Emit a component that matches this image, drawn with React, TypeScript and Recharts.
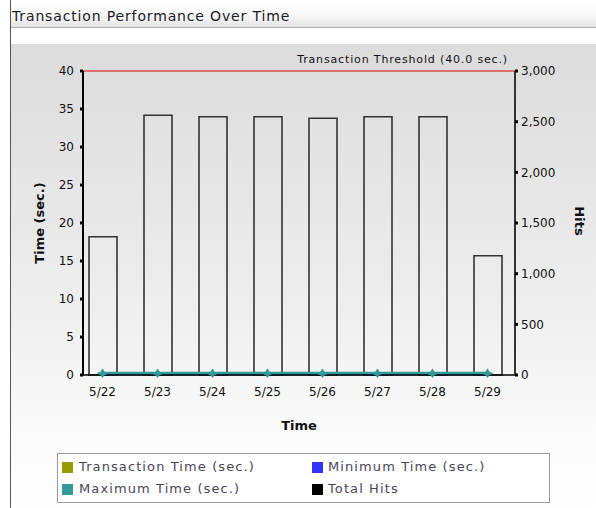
import React from "react";
import {
  ComposedChart,
  Bar,
  Line,
  XAxis,
  YAxis,
  ReferenceLine,
} from "recharts";

const dates = ["5/22", "5/23", "5/24", "5/25", "5/26", "5/27", "5/28", "5/29"];
const totalHits = [1365, 2563, 2549, 2549, 2533, 2549, 2549, 1177];
const transactionTime = [0.12, 0.11, 0.12, 0.12, 0.11, 0.12, 0.12, 0.12];
const minimumTime = [0.05, 0.05, 0.05, 0.05, 0.05, 0.05, 0.05, 0.05];
const maximumTime = [0.21, 0.2, 0.2, 0.21, 0.2, 0.2, 0.2, 0.21];
const timeTicks = [0, 5, 10, 15, 20, 25, 30, 35, 40];
const hitTicks = [0, 500, 1000, 1500, 2000, 2500, 3000];
const threshold = 40;

const legendItems = [
  { name: "Transaction Time (sec.)", color: "#999900" },
  { name: "Minimum Time (sec.)", color: "#3333ff" },
  { name: "Maximum Time (sec.)", color: "#339999" },
  { name: "Total Hits", color: "#000000" },
];

const data = dates.map((d, i) => ({
  date: d,
  hits: totalHits[i],
  trans: transactionTime[i],
  min: minimumTime[i],
  max: maximumTime[i],
}));

const FONT = "'DejaVu Sans', Verdana, sans-serif";

const StarDot = (props: any) => {
  const { cx, cy } = props;
  if (cx == null || cy == null) return null;
  const pts = [
    [cx, cy - 4.5],
    [cx + 1.5, cy - 1.5],
    [cx + 5, cy],
    [cx + 1.5, cy + 1.5],
    [cx, cy + 4],
    [cx - 1.5, cy + 1.5],
    [cx - 5, cy],
    [cx - 1.5, cy - 1.5],
  ]
    .map((p) => p.join(","))
    .join(" ");
  return <polygon points={pts} fill="#339999" stroke="#339999" strokeWidth={1} />;
};

const LeftLabel = (props: any) => {
  const vb = props.viewBox || { x: 23, y: 71, width: 60, height: 304 };
  return (
    <text
      transform={`translate(${vb.x + 21}, ${vb.y + vb.height / 2}) rotate(-90)`}
      textAnchor="middle"
      fontSize={13}
      fontWeight="bold"
      fontFamily={FONT}
      fill="#111"
    >
      Time (sec.)
    </text>
  );
};

const RightLabel = (props: any) => {
  const vb = props.viewBox || { x: 515, y: 71, width: 60, height: 304 };
  return (
    <text
      transform={`translate(${vb.x + 60}, ${vb.y + vb.height / 2 - 2}) rotate(90)`}
      textAnchor="middle"
      fontSize={13}
      fontWeight="bold"
      fontFamily={FONT}
      fill="#111"
    >
      Hits
    </text>
  );
};

const BottomLabel = (props: any) => {
  const vb = props.viewBox || { x: 83, y: 375, width: 432, height: 60 };
  return (
    <text
      x={vb.x + vb.width / 2}
      y={vb.y + 55}
      textAnchor="middle"
      fontSize={13}
      fontWeight="bold"
      fontFamily={FONT}
      fill="#111"
    >
      Time
    </text>
  );
};

const ThresholdLabel = (props: any) => {
  const vb = props.viewBox || { x: 83, y: 71, width: 432, height: 0 };
  return (
    <text
      x={vb.x + vb.width - 7}
      y={vb.y - 8}
      textAnchor="end"
      fontSize={11}
      letterSpacing={0.85}
      fontFamily={FONT}
      fill="#111"
    >
      {`Transaction Threshold (${threshold.toFixed(1)} sec.)`}
    </text>
  );
};

const App = () => {
  return (
    <div
      style={{
        position: "absolute",
        left: 0,
        top: 0,
        width: 596,
        height: 508,
        overflow: "hidden",
        background: "#fff",
        fontFamily: FONT,
      }}
    >
      {/* panel frame */}
      <div
        style={{
          position: "absolute",
          left: 10,
          top: 0,
          width: 600,
          height: 520,
          borderLeft: "1px solid #555",
        }}
      />
      <div
        style={{
          position: "absolute",
          left: 11,
          top: 2,
          width: 590,
          height: 25,
          background: "linear-gradient(#ffffff 0%, #f7f7f7 55%, #e4e4e4 100%)",
          borderBottom: "1px solid #a8a8a8",
        }}
      />
      <div
        style={{
          position: "absolute",
          left: 12,
          top: 8,
          fontSize: 14,
          letterSpacing: 0.85,
          color: "#1a1a2a",
          whiteSpace: "nowrap",
        }}
      >
        Transaction Performance Over Time
      </div>
      <div
        style={{
          position: "absolute",
          left: 11,
          top: 44,
          width: 590,
          height: 470,
          background: "linear-gradient(#dcdcdc 0%, #ececec 50%, #fbfbfb 85%, #ffffff 100%)",
        }}
      />

      <div style={{ position: "absolute", left: 0, top: 0 }}>
        <ComposedChart
          width={596}
          height={508}
          data={data}
          margin={{ top: 71, right: 21, bottom: 73, left: 23 }}
        >
          <XAxis
            dataKey="date"
            xAxisId="x"
            padding={{ left: -8, right: 0 }}
            axisLine={{ stroke: "#000", strokeWidth: 1.5 }}
            tickLine={false}
            tickSize={0}
            tickMargin={12}
            height={60}
            tick={{ fill: "#111", fontSize: 12, fontFamily: FONT }}
            label={BottomLabel}
          />
          <YAxis
            yAxisId="left"
            orientation="left"
            width={60}
            domain={[0, 40]}
            ticks={timeTicks}
            interval={0}
            axisLine={{ stroke: "#000", strokeWidth: 2 }}
            tickLine={{ stroke: "#000", strokeWidth: 3 }}
            tickSize={3}
            tickMargin={6}
            tick={{ fill: "#111", fontSize: 12, fontFamily: FONT }}
            label={LeftLabel}
          />
          <YAxis
            yAxisId="right"
            orientation="right"
            width={60}
            domain={[0, 3000]}
            ticks={hitTicks}
            interval={0}
            axisLine={{ stroke: "#333", strokeWidth: 2 }}
            tickLine={{ stroke: "#000", strokeWidth: 3 }}
            tickSize={3}
            tickMargin={3}
            tickFormatter={(v: number) => v.toLocaleString("en-US")}
            tick={{ fill: "#111", fontSize: 12, fontFamily: FONT }}
            label={RightLabel}
          />
          <Bar
            dataKey="hits"
            xAxisId="x"
            yAxisId="right"
            barSize={28}
            fill="none"
            stroke="#333"
            strokeWidth={1.6}
            isAnimationActive={false}
          />
          <ReferenceLine
            xAxisId="x"
            yAxisId="left"
            y={threshold}
            stroke="#e00000"
            strokeWidth={1.2}
            label={ThresholdLabel}
          />
          <Line
            dataKey="trans"
            xAxisId="x"
            yAxisId="left"
            stroke="#999900"
            strokeWidth={2}
            dot={false}
            isAnimationActive={false}
          />
          <Line
            dataKey="min"
            xAxisId="x"
            yAxisId="left"
            stroke="#3333ff"
            strokeWidth={2}
            dot={false}
            isAnimationActive={false}
          />
          <Line
            dataKey="max"
            xAxisId="x"
            yAxisId="left"
            stroke="#339999"
            strokeWidth={3.5}
            dot={<StarDot />}
            isAnimationActive={false}
          />
        </ComposedChart>
      </div>

      {/* legend */}
      <div
        style={{
          position: "absolute",
          left: 57,
          top: 453,
          width: 491,
          height: 48,
          border: "1px solid #9a9a9a",
          background: "#ffffff",
        }}
      >
        {legendItems.map((item, i) => (
          <div
            key={item.name}
            style={{
              position: "absolute",
              left: i % 2 === 0 ? 4 : 254,
              top: i < 2 ? 4 : 26,
              display: "flex",
              alignItems: "center",
              whiteSpace: "nowrap",
              fontSize: 13,
              letterSpacing: 1.1,
              color: "#4a4658",
              lineHeight: "18px",
            }}
          >
            <span
              style={{
                display: "inline-block",
                width: 11,
                height: 11,
                background: item.color,
                marginRight: i % 2 === 0 ? 6 : 5,
              }}
            />
            {item.name}
          </div>
        ))}
      </div>
    </div>
  );
};

export default App;
